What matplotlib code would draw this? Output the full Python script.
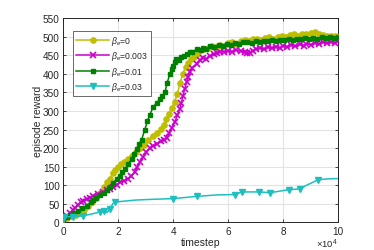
import matplotlib
matplotlib.use("Agg")
import matplotlib.pyplot as plt

# data (x in units of 1e4 timesteps)
x_b0 = [0.00,0.15,0.30,0.45,0.60,0.75,0.90,1.05,1.20,1.35,1.50,1.60,1.70,1.80,1.90,2.00,2.10,2.20,2.35,2.50,
        2.65,2.80,2.95,3.10,3.25,3.40,3.55,3.65,3.75,3.85,3.95,4.05,4.15,4.25,4.35,4.45,4.55,4.65,4.75,4.85,
        4.95,5.10,5.25,5.40,5.55,5.70,5.85,6.00,6.15,6.30,6.45,6.60,6.75,6.90,7.05,7.20,7.35,7.50,7.65,7.80,
        7.95,8.10,8.25,8.40,8.55,8.70,8.85,9.00,9.15,9.30,9.45,9.60,9.75,9.90,10.0]
y_b0 = [8,12,16,20,26,34,44,55,66,78,95,108,118,132,142,150,156,163,171,180,
        189,200,208,222,232,240,252,262,278,292,308,325,345,375,400,418,430,440,446,452,
        462,466,470,474,472,478,476,482,486,481,487,490,488,493,495,491,496,499,494,500,
        503,498,504,506,502,508,506,510,512,507,505,503,502,501,500]

x_b003 = [0.00,0.12,0.25,0.35,0.43,0.55,0.65,0.73,0.85,0.97,1.10,1.25,1.45,1.60,1.72,1.82,1.95,2.06,2.20,2.36,
          2.48,2.60,2.70,2.79,2.90,3.03,3.15,3.27,3.40,3.55,3.66,3.76,3.85,3.95,4.06,4.15,4.24,4.30,4.36,4.42,
          4.49,4.55,4.60,4.70,4.85,4.97,5.10,5.20,5.35,5.50,5.60,5.70,5.85,6.00,6.15,6.30,6.45,6.60,6.70,6.80,
          6.90,7.03,7.15,7.30,7.45,7.60,7.75,7.90,8.00,8.15,8.30,8.45,8.60,8.75,8.85,9.00,9.15,9.30,9.45,9.60,
          9.75,9.90,10.0]
y_b003 = [12,18,26,33,40,48,55,58,62,67,72,76,81,86,90,94,100,108,112,117,
          124,135,150,162,175,189,200,206,212,218,222,226,240,255,270,288,305,322,341,360,
          377,392,404,416,427,438,442,440,448,452,455,460,458,462,460,464,461,458,455,457,
          462,467,469,466,471,470,473,470,476,473,477,474,479,476,481,478,483,480,485,482,
          486,484,487]

x_b01 = [0.00,0.12,0.24,0.40,0.55,0.70,0.85,1.00,1.10,1.21,1.35,1.50,1.58,1.70,1.82,1.94,2.05,2.15,2.24,2.35,
         2.49,2.58,2.67,2.76,2.85,2.97,3.06,3.15,3.27,3.40,3.52,3.60,3.70,3.78,3.88,3.95,4.00,4.06,4.12,4.20,
         4.30,4.40,4.50,4.60,4.70,4.85,5.00,5.10,5.20,5.35,5.50,5.65,5.80,5.95,6.10,6.25,6.40,6.55,6.70,6.85,
         7.00,7.15,7.30,7.45,7.60,7.75,7.90,8.05,8.20,8.35,8.50,8.65,8.80,8.95,9.10,9.25,9.40,9.55,9.70,9.85,
         10.0]
y_b01 = [10,14,20,26,32,38,45,54,60,67,74,80,86,96,106,117,126,136,144,156,
         171,185,198,212,222,250,272,290,310,322,332,340,350,375,400,412,422,432,440,438,
         445,448,454,460,458,466,464,470,467,474,472,478,476,480,478,483,481,486,485,482,
         488,486,489,487,491,489,492,490,494,491,495,493,496,494,497,495,499,496,498,496,
         499]

x_b03 = [0.00,0.03,0.10,0.36,0.55,0.73,1.00,1.33,1.50,1.60,1.70,1.82,1.90,2.06,2.60,3.20,4.00,4.86,5.60,6.25,
         6.50,7.12,7.53,8.20,8.62,8.80,9.28,9.60,10.0]
y_b03 = [9,14,16,14,17,18,22,28,30,27,36,52,54,56,60,62,64,70,74,75,
         82,82,80,88,90,98,115,117,118]
mark_b03 = [0,1,3,5,7,8,10,12,16,17,19,20,21,22,23,24,26]

labels = [r'$\beta_e$=0', r'$\beta_e$=0.003', r'$\beta_e$=0.01', r'$\beta_e$=0.03']
xticks = [0, 2, 4, 6, 8, 10]
yticks = list(range(0, 551, 50))

plt.rcParams['font.family'] = ['Liberation Sans', 'DejaVu Sans']
plt.rcParams['mathtext.fontset'] = 'custom'
plt.rcParams['mathtext.it'] = 'Liberation Sans:italic'
plt.rcParams['mathtext.rm'] = 'Liberation Sans'

fig = plt.figure(figsize=(3.74, 2.51), dpi=100)
ax = fig.add_axes([0.169, 0.110, 0.735, 0.814])

lw = 1.1
ms = 3.8
ax.plot(x_b0, y_b0, color='#BFBF00', marker='o', ms=ms, mfc='#BFBF00', mec='#BFBF00', lw=lw, label=labels[0], zorder=3)
ax.plot(x_b003, y_b003, color='#CC00CC', marker='x', ms=ms, mew=1.2, lw=lw, label=labels[1], zorder=4)
ax.plot(x_b01, y_b01, color='#008000', marker='s', ms=ms*0.9, mfc='#008000', mec='#008000', lw=lw, label=labels[2], zorder=5)
ax.plot(x_b03, y_b03, color='#1FBFBF', marker='v', ms=ms+0.6, mfc='#1FBFBF', mec='#1FBFBF', lw=lw,
        markevery=mark_b03, label=labels[3], zorder=6)

ax.set_xlim(0, 10)
ax.set_ylim(0, 550)
ax.set_xticks(xticks)
ax.set_xticklabels([str(t) for t in xticks])
ax.set_yticks(yticks)
ax.set_yticklabels([str(t) for t in yticks])
ax.grid(True, color='#e3e3e3', lw=0.8)
ax.set_axisbelow(True)
ax.tick_params(direction='in', length=2.5, width=0.6, labelsize=7.2, colors='#262626', pad=2.5,
               top=True, right=True)
for s in ax.spines.values():
    s.set_color('#262626')
    s.set_linewidth(0.7)

ax.set_xlabel('timestep', fontsize=7.5, color='#262626', labelpad=1)
ax.set_ylabel('episode reward', fontsize=7.5, color='#262626', labelpad=0)
ax.text(1.0, -0.12, r'$\times10^{4}$', transform=ax.transAxes, ha='right', va='baseline', fontsize=6.8, color='#262626')

leg = ax.legend(loc='upper left', bbox_to_anchor=(0.035, 0.937), fontsize=6.2, frameon=True, fancybox=False,
                edgecolor='#262626', handlelength=3.9, handletextpad=0.2, borderpad=0.35, labelspacing=0.28,
                borderaxespad=0)
leg.get_frame().set_linewidth(0.6)
for t in leg.get_texts():
    t.set_color('#262626')

fig.savefig('out.png', dpi=100)
